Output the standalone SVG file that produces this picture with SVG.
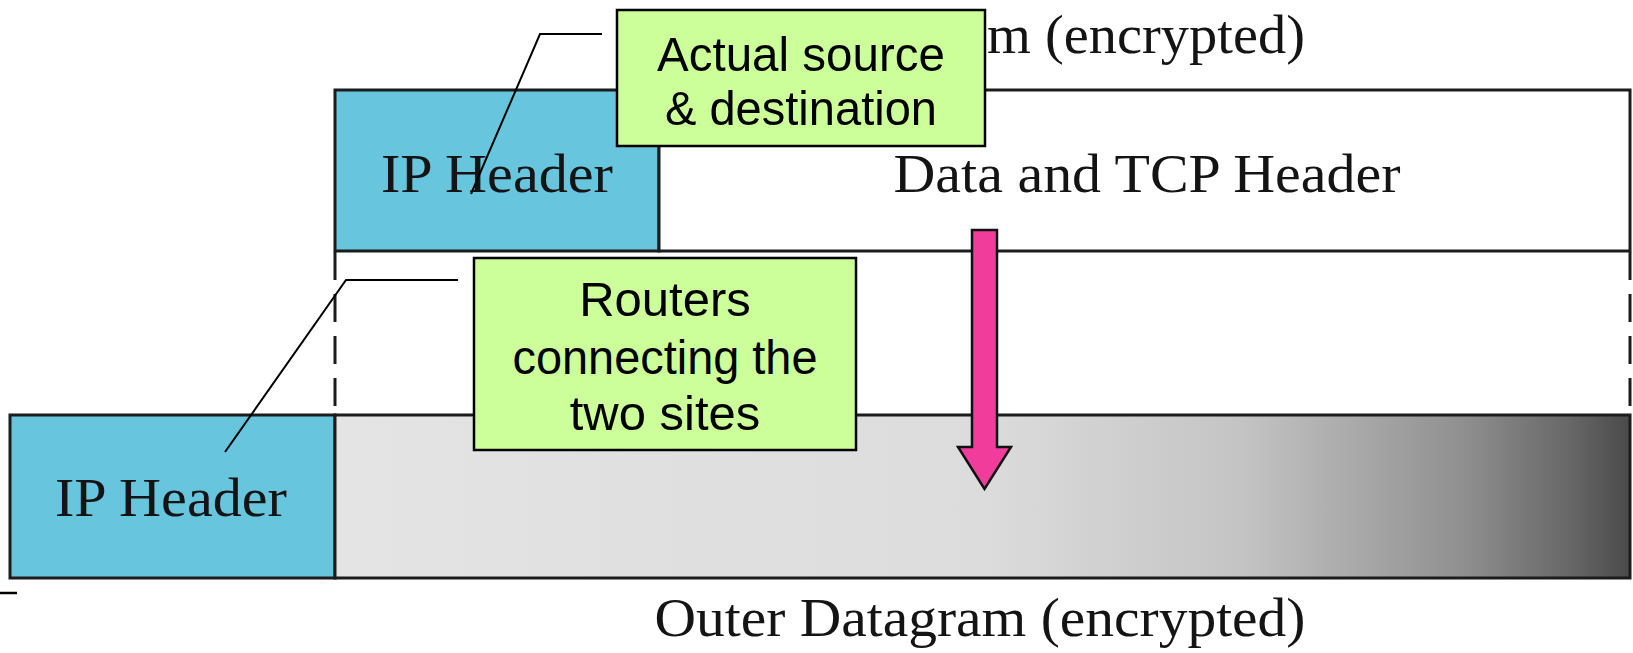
<svg xmlns="http://www.w3.org/2000/svg" width="1633" height="653" viewBox="0 0 1633 653">
  <style>
    .box { stroke: #1c1c1c; stroke-width: 3; }
    .hdr { fill: #67c5de; }
    .serif { font-family: "Liberation Serif", "Times New Roman", serif; font-size: 55px; fill: #141414; }
    .callout { fill: #ccff99; stroke: #000; stroke-width: 2.5; }
    .ctext { font-family: "Liberation Sans", Arial, sans-serif; font-size: 49px; fill: #000; text-anchor: middle; }
    .leader { fill: none; stroke: #000; stroke-width: 2; }
    .dash { stroke: #1c1c1c; stroke-width: 3; stroke-dasharray: 28 14; }
  </style>
  <defs>
    <linearGradient id="fade" x1="0" y1="0" x2="1" y2="0">
      <stop offset="0" stop-color="#e4e4e4"/>
      <stop offset="0.5" stop-color="#dcdcdc"/>
      <stop offset="0.7" stop-color="#c4c4c4"/>
      <stop offset="0.87" stop-color="#909090"/>
      <stop offset="0.95" stop-color="#696969"/>
      <stop offset="1" stop-color="#4a4a4a"/>
    </linearGradient>
  </defs>

  <rect width="1633" height="653" fill="#ffffff"/>

  <!-- inner datagram -->
  <g id="inner-caption">
    <text class="serif" x="987" y="53" textLength="318" lengthAdjust="spacingAndGlyphs">m (encrypted)</text>
  </g>
  <g id="inner-ip-header">
    <rect class="box hdr" x="335" y="90" width="324" height="161"/>
    <text class="serif" x="497" y="192" text-anchor="middle" textLength="232" lengthAdjust="spacingAndGlyphs">IP Header</text>
  </g>
  <g id="inner-payload">
    <rect class="box" fill="#ffffff" x="659" y="90" width="971" height="161"/>
    <text class="serif" x="1147" y="192" text-anchor="middle" textLength="507" lengthAdjust="spacingAndGlyphs">Data and TCP Header</text>
  </g>

  <!-- outer datagram -->
  <g id="outer-ip-header">
    <rect class="box hdr" x="10" y="415" width="325" height="163"/>
    <text class="serif" x="171" y="516" text-anchor="middle" textLength="232" lengthAdjust="spacingAndGlyphs">IP Header</text>
  </g>
  <g id="outer-payload">
    <rect class="box" fill="url(#fade)" x="335" y="415" width="1295" height="163"/>
  </g>
  <g id="outer-caption">
    <text class="serif" x="980" y="636" text-anchor="middle" textLength="651" lengthAdjust="spacingAndGlyphs">Outer Datagram (encrypted)</text>
  </g>

  <!-- connectors -->
  <g id="connectors">
    <line class="dash" x1="335" y1="252" x2="335" y2="414"/>
    <line class="dash" x1="1630" y1="252" x2="1630" y2="414"/>
    <path id="encap-arrow" d="M972 230 H997 V447 H1011 L984.5 489 L958 447 H972 Z" fill="#f23c9c" stroke="#111" stroke-width="2.5" stroke-linejoin="miter"/>
    <line x1="0" y1="593" x2="17" y2="593" stroke="#000" stroke-width="2.5"/>
    <polyline class="leader" points="602,34 540,34 471,194"/>
    <polyline class="leader" points="458,280 346,280 225,452"/>
  </g>

  <!-- callouts -->
  <g id="callout-source">
    <rect class="callout" x="617" y="10" width="368" height="136"/>
    <text class="ctext" x="801" y="71" textLength="288" lengthAdjust="spacingAndGlyphs">Actual source</text>
    <text class="ctext" x="801" y="125" textLength="272" lengthAdjust="spacingAndGlyphs">&amp; destination</text>
  </g>
  <g id="callout-routers">
    <rect class="callout" x="474" y="258" width="382" height="192"/>
    <text class="ctext" x="665" y="316">Routers</text>
    <text class="ctext" x="665" y="374" textLength="305" lengthAdjust="spacingAndGlyphs">connecting the</text>
    <text class="ctext" x="665" y="430">two sites</text>
  </g>
</svg>
